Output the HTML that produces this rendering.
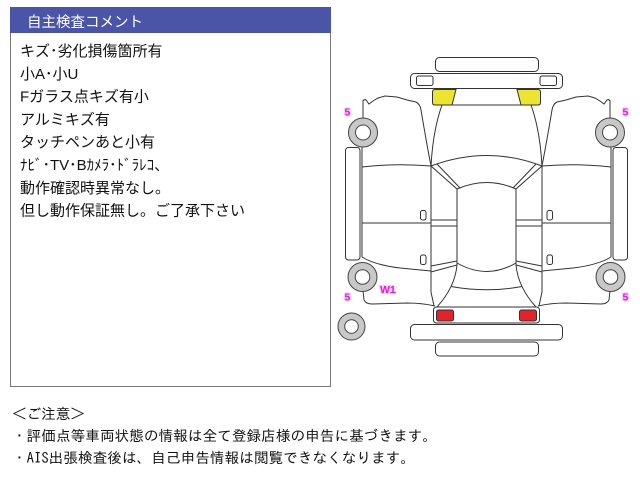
<!DOCTYPE html>
<html><head><meta charset="utf-8">
<style>
html,body{margin:0;padding:0;background:#fff;width:640px;height:480px;overflow:hidden}
svg{display:block}
.jp{font-family:"Liberation Sans","Noto Sans CJK JP",sans-serif;font-size:15px;fill:#111}
.nt{font-family:"IPAGothic","Noto Sans CJK JP",monospace;font-size:14.6px;fill:#111}
.mg{font-family:"Liberation Sans",sans-serif;font-weight:bold;font-size:10.5px;fill:#d81fd8;stroke:#f7c8f7;stroke-width:2;paint-order:stroke}
.ln{fill:none;stroke:#333;stroke-width:1}
</style></head><body>
<svg width="640" height="480" viewBox="0 0 640 480" xmlns="http://www.w3.org/2000/svg">
<!-- comment box -->
<rect x="10.5" y="7.5" width="320" height="379" fill="#fff" stroke="#777" stroke-width="1"/>
<rect x="10" y="7" width="321" height="26" fill="#4a55a7"/>
<text x="27" y="27" font-family="'Noto Sans CJK JP',sans-serif" font-size="14.5" fill="#fff">自主検査コメント</text>

<text class="jp" x="20" y="56">キズ･劣化損傷箇所有</text>
<text class="jp" x="20" y="78.8">小A･小U</text>
<text class="jp" x="20" y="101.6">Fガラス点キズ有小</text>
<text class="jp" x="20" y="124.4">アルミキズ有</text>
<text class="jp" x="20" y="147.2">タッチペンあと小有</text>
<text class="jp" x="20" y="170">ﾅﾋﾞ･TV･Bｶﾒﾗ･ﾄﾞﾗﾚｺ、</text>
<text class="jp" x="20" y="192.8">動作確認時異常なし。</text>
<text class="jp" x="20" y="215.6">但し動作保証無し。ご了承下さい</text>

<!-- notes -->
<text class="nt" x="12" y="419" textLength="73" lengthAdjust="spacing">＜ご注意＞</text>
<text class="nt" x="12" y="441" textLength="425" lengthAdjust="spacing">・評価点等車両状態の情報は全て登録店様の申告に基づきます。</text>
<text class="nt" x="12" y="463" textLength="403" lengthAdjust="spacing">・AIS出張検査後は、自己申告情報は閲覧できなくなります。</text>

<!-- car: full-width parts -->
<g class="ln">
  <rect x="435.5" y="57.5" width="103" height="14" rx="4" fill="#fff"/>
  <rect x="410.5" y="73.5" width="152" height="15" rx="4" fill="#fff"/>
  <rect x="416.5" y="76" width="16.5" height="9.5" rx="2"/>
  <rect x="540" y="76" width="16.5" height="9.5" rx="2"/>
  <path d="M452,105 L521,105"/>
  <path d="M431,166 Q487,145 542,166"/>
  <path d="M457,189 Q487,176 516,189"/>
  <path d="M457,263 Q487,280 516,263"/>
  <path d="M451,286.5 Q487,293 522,286.5"/>
  <rect x="433.5" y="307" width="106" height="16" rx="3" fill="#fff"/>
  <rect x="410.5" y="324.5" width="152" height="15.5" rx="4" fill="#fff"/>
  <rect x="435.5" y="342" width="103" height="14" rx="4" fill="#fff"/>
  <circle cx="351.5" cy="326.5" r="13.5" fill="#c8c8c8" stroke="#444"/>
  <circle cx="351.5" cy="326.5" r="6.8" fill="#fff" stroke="#444"/>
</g>

<!-- left half -->
<g id="half" class="ln">
  <path d="M435,89.5 L456,89.5 L452,105 L435,105 Q432.5,105 432.5,102.5 L432.5,92 Q432.5,89.5 435,89.5 Z" fill="#ebe432"/>
  <rect x="436.5" y="310" width="17" height="11" rx="2" fill="#e3232b"/>
  <path d="M363,118 L363,101 Q364,99 366,100 L369,104 L373,101 L378,98 L385,96 L397,97 L407,100 L416,102 Q420,104 421,110 Q426,140 431,166"/>
  <path d="M442,105 Q433,130 431,166"/>
  <path d="M362,167 Q396,163 431,166"/>
  <path d="M362,147 L362,257"/>
  <path d="M362,223 L431,223"/>
  <rect x="345.5" y="147.5" width="14.5" height="112.5" rx="3" fill="#fff"/>
  <rect x="420.5" y="210.5" width="5.5" height="9.5" rx="2"/>
  <rect x="420.5" y="255" width="5.5" height="9.5" rx="2"/>
  <path d="M362,257 Q375,265 400,268 L431,271"/>
  <path d="M363,291 L364,300 Q366,304 372,304 L407,303 Q422,303 435,306"/>
  <path d="M431,166 L431,292 L434,306"/>
  <path d="M431,166 L457,189"/>
  <path d="M437,164 L460,188"/>
  <path d="M457,189 L457,265"/>
  <path d="M431,220 L457,220 M431,226 L457,226"/>
  <path d="M431,266 L457,261 M431,272 L457,265"/>
  <path d="M457,265 Q455,287 437,307"/>
  <circle cx="363" cy="132.5" r="14.5" fill="#c8c8c8" stroke="#444"/>
  <circle cx="363" cy="132.5" r="7.5" fill="#fff" stroke="#444"/>
  <circle cx="362.5" cy="277" r="14.5" fill="#c8c8c8" stroke="#444"/>
  <circle cx="362.5" cy="277" r="7.3" fill="#fff" stroke="#444"/>
</g>
<use href="#half" transform="matrix(-1 0 0 1 973 0)"/>

<!-- magenta labels -->
<text class="mg" x="344.5" y="115.5">5</text>
<text class="mg" x="622.5" y="115.5">5</text>
<text class="mg" x="344.5" y="300.5">5</text>
<text class="mg" x="622.5" y="300.5">5</text>
<text class="mg" x="380" y="293">W1</text>
</svg>
</body></html>
